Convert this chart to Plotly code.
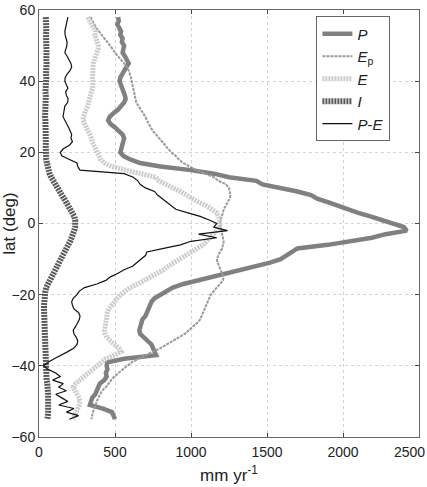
import plotly.graph_objects as go

lat = list(range(58, -56, -1))

P = [520, 525, 515, 530, 540, 535, 550, 545, 560, 555, 550, 565, 580, 590, 575, 560, 545, 535, 530, 540,
     545, 560, 565, 570, 560, 540, 520, 490, 465, 455, 470, 500, 530, 550, 560, 555, 545, 540, 535, 555,
     600, 665, 800, 1000, 1150, 1250, 1430, 1470, 1600, 1700, 1790, 1830, 1900, 1960, 2040, 2100, 2180, 2260, 2330,
     2400, 2420, 2280, 2190, 2060, 1900, 1700, 1660, 1620, 1590, 1520, 1420, 1330, 1250, 1150, 1050, 950, 880,
     840, 790, 760, 740, 730, 720, 710, 700, 680, 675, 665, 660, 665, 690, 720, 740, 750, 760, 770, 560,
     450, 445, 450, 440, 445, 430, 400, 390, 380, 370, 350, 340, 335, 420, 480, 490, 500]

Ep = [340, 350, 360, 375, 395, 410, 430, 450, 470, 485, 500, 520, 545, 565, 580, 590, 600, 605, 610, 615,
      620, 625, 630, 632, 640, 655, 670, 690, 700, 710, 720, 735, 750, 770, 790, 810, 830, 850, 870, 900,
      920, 950, 990, 1040, 1100, 1150, 1180, 1230, 1250, 1255, 1260, 1255, 1240, 1225, 1215, 1210, 1200, 1195, 1190,
      1195, 1200, 1205, 1210, 1215, 1210, 1205, 1190, 1180, 1170, 1175, 1185, 1200, 1210, 1215, 1210, 1190, 1170,
      1150, 1130, 1120, 1110, 1100, 1090, 1080, 1070, 1060, 1040, 1010, 985, 960, 920, 880, 840, 800, 750, 700, 650,
      610, 580, 550, 520, 495, 475, 460, 440, 415, 400, 390, 380, 370, 360, 355, 350, 345]

E = [320, 330, 345, 360, 370, 368, 375, 385, 390, 388, 380, 370, 362, 358, 355, 352, 350, 352, 355, 356,
     353, 345, 340, 336, 330, 320, 310, 300, 292, 289, 300, 315, 330, 340, 345, 350, 360, 370, 380, 395,
     405, 430, 480, 570, 680, 770, 790, 830, 880, 930, 970, 1000, 1050, 1100, 1140, 1170, 1180, 1190, 1190,
     1185, 1170, 1150, 1130, 1110, 1080, 1040, 1000, 960, 920, 880, 850, 820, 780, 730, 690, 650, 600,
     565, 535, 515, 495, 475, 460, 450, 445, 440, 435, 430, 432, 435, 445, 470, 500, 525, 540, 500, 440,
     410, 380, 355, 330, 300, 270, 240, 225, 235, 250, 265, 270, 265, 255, 250, 240, 225]

I = [45, 48, 45, 50, 48, 46, 50, 52, 48, 50, 47, 45, 48, 50, 46, 44, 46, 48, 45, 42,
     40, 42, 45, 43, 40, 42, 44, 42, 40, 42, 44, 45, 44, 42, 44, 45, 44, 43, 45, 46,
     48, 52, 56, 62, 70, 80, 92, 105, 120, 135, 150, 165, 180, 195, 210, 222, 232, 238, 240,
     238, 232, 225, 215, 205, 192, 180, 168, 155, 142, 128, 115, 102, 90, 78, 66, 56, 48,
     42, 38, 35, 34, 33, 33, 34, 35, 34, 33, 34, 35, 36, 35, 34, 35, 36, 37, 38, 38,
     38, 40, 42, 45, 48, 50, 55, 52, 58, 60, 62, 58, 65, 62, 60, 58, 55]

PmE = [190, 185, 180, 175, 170, 172, 178, 185, 183, 175, 170, 185, 200, 210, 215, 205, 185, 172, 170, 180,
       190, 175, 180, 192, 188, 170, 165, 160, 158, 170, 185, 195, 205, 215, 210, 220, 200, 160, 140, 150,
       200, 250, 255, 270, 560, 620, 650, 665, 700, 760, 780, 810, 840, 870, 900, 980, 1060, 1120, 1170,
       1150, 1240, 1050, 1170, 1000, 930, 820, 710, 700, 670, 640, 615, 560, 520, 470, 440, 380, 300,
       265, 250, 225, 215, 220, 230, 260, 270, 265, 255, 240, 225, 230, 245, 255, 250, 230, 190, 140, 100,
       60, 30, 60, 110, 140, 90, 160, 130, 180, 110, 150, 190, 130, 230, 180, 260, 200]

x_ticks = [0, 500, 1000, 1500, 2000, 2500]
x_tick_labels = ["0", "500", "1000", "1500", "2000", "2500"]
y_ticks = [-60, -40, -20, 0, 20, 40, 60]

fig = go.Figure()
fig.add_trace(go.Scatter(x=P, y=lat, mode="lines", name="<i>P</i>",
                         line=dict(color="#808080", width=4.5)))
fig.add_trace(go.Scatter(x=Ep, y=lat, mode="lines", name="<i>E</i><sub>p</sub>",
                         line=dict(color="#9a9a9a", width=2, dash="3px,1px")))
fig.add_trace(go.Scatter(x=E, y=lat, mode="lines", name="<i>E</i>",
                         line=dict(color="#cccccc", width=5, dash="2px,1px")))
fig.add_trace(go.Scatter(x=I, y=lat, mode="lines", name="<i>I</i>",
                         line=dict(color="#595959", width=6, dash="2px,1px")))
fig.add_trace(go.Scatter(x=PmE, y=lat, mode="lines", name="<i>P</i>-<i>E</i>",
                         line=dict(color="#111111", width=1.2)))

# last x tick label kept inside the page as the reference does
shown_labels = x_tick_labels[:-1] + [""]
fig.add_annotation(x=x_ticks[-1], y=0, xref="x", yref="paper", yanchor="top",
                   xanchor="right", xshift=8, yshift=-5, showarrow=False,
                   text=x_tick_labels[-1], font=dict(size=14, color="#222"))

fig.update_layout(
    width=427, height=487,
    margin=dict(l=39, r=8, t=10, b=50, autoexpand=False),
    paper_bgcolor="white", plot_bgcolor="white",
    font=dict(family="Liberation Sans, Arial, sans-serif", size=14, color="#222"),
    legend=dict(x=0.73, y=0.985, xanchor="left", yanchor="top",
                bgcolor="white", bordercolor="#666", borderwidth=1,
                font=dict(size=15), itemwidth=30, tracegroupgap=0),
    showlegend=True,
)
fig.update_xaxes(range=[0, 2500], tickvals=x_ticks, ticktext=shown_labels,
                 ticks="inside", ticklen=4,
                 showline=True, linecolor="#666", linewidth=1, mirror="ticks",
                 showgrid=True, gridcolor="#d4d4d4", griddash="dot", zeroline=False,
                 automargin=False, ticklabelstandoff=2,
                 title=dict(text="mm yr<sup>-1</sup>", standoff=10))
fig.update_yaxes(range=[-60, 60], tickvals=y_ticks, ticks="inside", ticklen=4,
                 showline=True, linecolor="#666", linewidth=1, mirror="ticks",
                 showgrid=True, gridcolor="#d4d4d4", griddash="dot", zeroline=False,
                 automargin=False, ticklabeloverflow="allow",
                 title=dict(text="lat (deg)", standoff=2))

fig.write_html("out.html")
